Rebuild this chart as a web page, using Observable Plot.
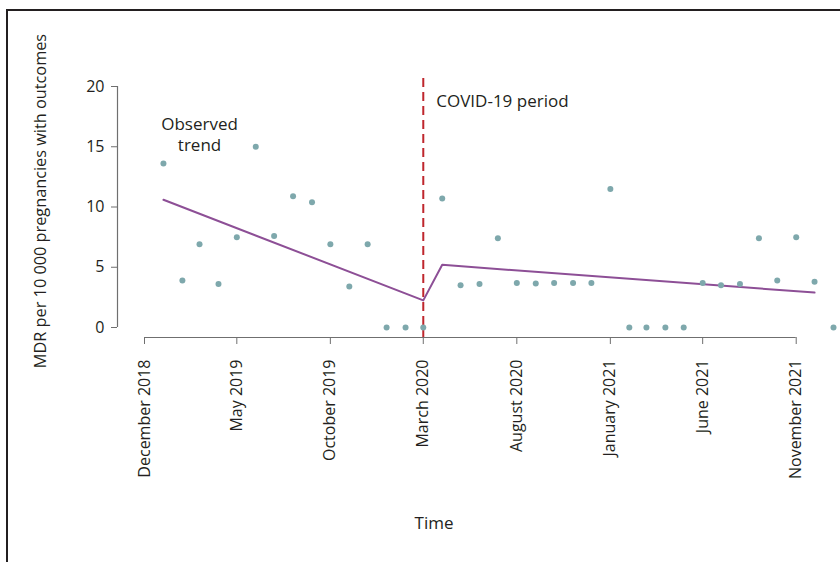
<!DOCTYPE html>
<html>
<head>
<meta charset="utf-8">
<script src="https://cdn.jsdelivr.net/npm/d3@7"></script>
<script src="https://cdn.jsdelivr.net/npm/@observablehq/plot@0.6"></script>
<style>
  html, body { margin: 0; padding: 0; background: #fff; }
  #wrap { position: relative; width: 840px; height: 562px; overflow: hidden; }
  #border { position: absolute; left: 6px; top: 9px; width: 900px; height: 600px;
            border-top: 2px solid #231f20; border-left: 2px solid #231f20; pointer-events: none; }
</style>
</head>
<body>
<div id="wrap"><div id="border"></div></div>
<script>
// ---- data ----
const months = [
  "2019-01","2019-02","2019-03","2019-04","2019-05","2019-06","2019-07","2019-08","2019-09","2019-10","2019-11","2019-12",
  "2020-01","2020-02","2020-03","2020-04","2020-05","2020-06","2020-07","2020-08","2020-09","2020-10","2020-11","2020-12",
  "2021-01","2021-02","2021-03","2021-04","2021-05","2021-06","2021-07","2021-08","2021-09","2021-10","2021-11","2021-12",
  "2022-01"
];
const mdr = [
  13.6, 3.9, 6.9, 3.6, 7.5, 15.0, 7.6, 10.9, 10.4, 6.9, 3.4, 6.9,
  0, 0, 0, 10.7, 3.5, 3.6, 7.4, 3.7, 3.65, 3.7, 3.7, 3.7,
  11.5, 0, 0, 0, 0, 3.7, 3.5, 3.6, 7.4, 3.9, 7.5, 3.8,
  0
];
const trendMonths = ["2019-01", "2020-03", "2020-04", "2021-12"];
const trendValues = [10.6, 2.25, 5.2, 2.9];
const xTickMonths = ["2018-12","2019-05","2019-10","2020-03","2020-08","2021-01","2021-06","2021-11"];
const yTicks = [0, 5, 10, 15, 20];
const covidMonth = "2020-03";
const domainMonths = ["2018-12", "2022-01"];
const annotations = [
  {label: "COVID-19 period", month: "2020-03", value: 18.75, anchor: "start"},
  {label: "Observed\ntrend", month: "2019-03", value: 16.1, anchor: "middle"}
];
const yLabel = "MDR per 10 000 pregnancies with outcomes";
const xLabel = "Time";

// ---- build ----
const parse = d3.utcParse("%Y-%m");
const fmt = d3.utcFormat("%B %Y");
const points = months.map((m, i) => ({date: parse(m), value: mdr[i]}));
const trend = trendMonths.map((m, i) => ({date: parse(m), value: trendValues[i]}));
const xTicks = xTickMonths.map(parse);
const covid = parse(covidMonth);

const axisColor = "#6f6f6f";
const textColor = "#231f20";
const font = "'Open Sans', sans-serif";

const chart = Plot.plot({
  width: 840,
  height: 562,
  marginTop: 86,
  marginBottom: 235,
  marginLeft: 144,
  marginRight: 7,
  style: {fontFamily: font, color: textColor, background: "transparent", overflow: "visible"},
  x: {type: "utc", domain: domainMonths.map(parse), axis: null},
  y: {domain: [yTicks[0], yTicks[yTicks.length - 1]], axis: null},
  marks: [
    // y axis
    Plot.ruleX([xTicks[0]], {x: d => d, y1: () => yTicks[0], y2: () => yTicks[yTicks.length - 1], dx: -27, stroke: axisColor, strokeWidth: 1.2}),
    Plot.axisY({ticks: yTicks, tickSize: 6, tickPadding: 7, dx: -27, stroke: axisColor, fill: textColor, fontSize: 16, label: null}),
    // x axis
    Plot.ruleY([yTicks[0]], {y: d => d, x1: () => xTicks[0], x2: () => xTicks[xTicks.length - 1], dy: 10, stroke: axisColor, strokeWidth: 1.2}),
    Plot.axisX({ticks: xTicks, tickSize: 7, dy: 10, stroke: axisColor, fill: "none", label: null}),
    Plot.text(xTicks, {x: d => d, text: d => fmt(d), frameAnchor: "bottom", dy: 32, rotate: -90, textAnchor: "end", lineAnchor: "middle", fontSize: 16, fill: textColor}),
    // covid line
    Plot.ruleX([covid], {x: d => d, insetTop: -8, insetBottom: -10, stroke: "#bf262d", strokeWidth: 2, strokeDasharray: "9,5"}),
    // trend
    Plot.line(trend, {x: "date", y: "value", stroke: "#8d4f96", strokeWidth: 2}),
    // points
    Plot.dot(points, {x: "date", y: "value", r: 3, fill: "#7ea8ac", stroke: "none"}),
    // annotations
    Plot.text(annotations, {x: d => parse(d.month), y: "value", text: "label", textAnchor: "start", dx: 13, lineAnchor: "middle", fontSize: 17, fill: textColor, filter: d => d.anchor === "start"}),
    Plot.text(annotations, {x: d => parse(d.month), y: "value", text: "label", textAnchor: "middle", lineAnchor: "middle", lineHeight: 1.27, fontSize: 17, fill: textColor, filter: d => d.anchor === "middle"}),
    // axis titles
    Plot.text([yLabel], {text: d => d, frameAnchor: "left", dx: -104, dy: -6, rotate: -90, textAnchor: "middle", lineAnchor: "middle", fontSize: 16.3, fill: textColor}),
    Plot.text([xLabel], {text: d => d, frameAnchor: "bottom", dx: -55, dy: 196, textAnchor: "middle", lineAnchor: "middle", fontSize: 17, fill: textColor})
  ]
});
document.getElementById("wrap").prepend(chart);
</script>
</body>
</html>
